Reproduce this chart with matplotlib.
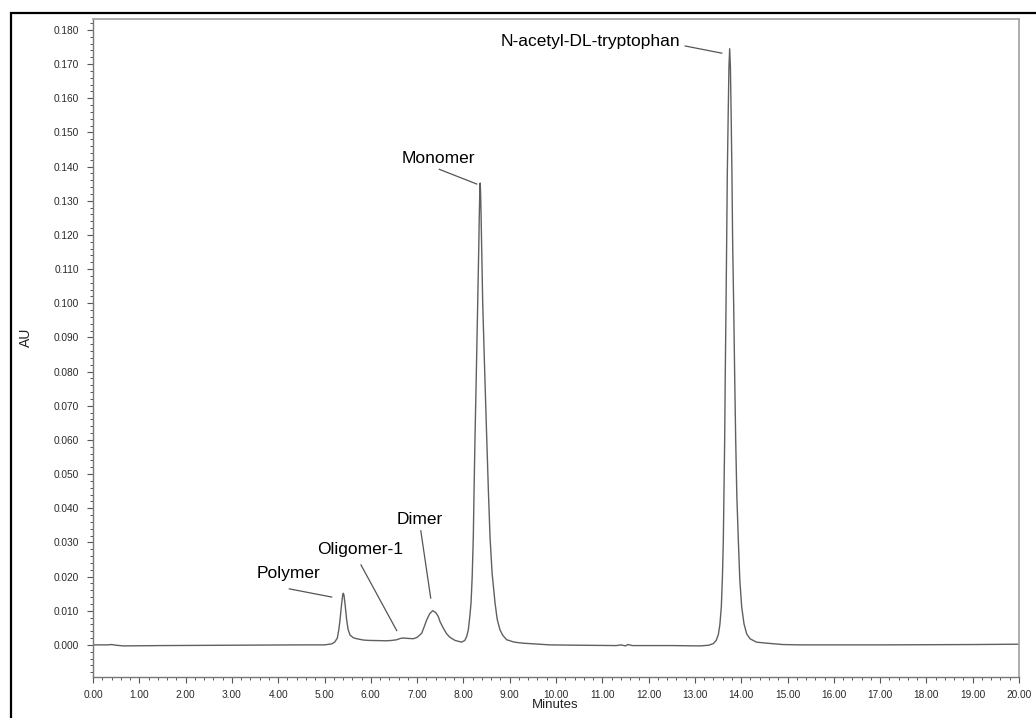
import numpy as np
import matplotlib
matplotlib.use('Agg')
import matplotlib.pyplot as plt
from matplotlib.patches import Rectangle
from matplotlib.ticker import MultipleLocator, FormatStrFormatter

plt.rcParams['font.family'] = ['Liberation Sans', 'DejaVu Sans']

# retention time (min) and absorbance (AU)
minutes = [0.00, 0.30, 0.40, 0.50, 0.65, 1.50, 3.00, 4.50, 5.00,
           5.155, 5.22, 5.277, 5.31, 5.335, 5.37, 5.395, 5.407, 5.42, 5.445,
           5.479, 5.51, 5.551, 5.62, 5.695, 5.85, 5.983, 6.343, 6.45, 6.559,
           6.64, 6.702, 6.80, 6.918, 7.00, 7.099, 7.15, 7.207, 7.27, 7.336,
           7.40, 7.458, 7.495, 7.566, 7.64, 7.711, 7.82, 7.96, 8.03, 8.07,
           8.106, 8.14, 8.165, 8.19, 8.214, 8.23, 8.251, 8.28, 8.309, 8.33,
           8.345, 8.355, 8.362, 8.37, 8.38, 8.395, 8.417, 8.46, 8.503, 8.54,
           8.575, 8.62, 8.683, 8.73, 8.790, 8.85, 8.935, 9.10, 9.287, 9.87,
           10.5, 11.3, 11.4, 11.5, 11.55, 11.65, 12.5, 13.11, 13.30, 13.40, 13.46,
           13.506, 13.54, 13.571, 13.595, 13.614, 13.625, 13.643, 13.655, 13.672,
           13.686, 13.70, 13.72, 13.735, 13.751, 13.767, 13.782, 13.80, 13.815,
           13.838, 13.86, 13.881, 13.905, 13.938, 13.97, 14.010, 14.06, 14.119,
           14.19, 14.33, 14.55, 14.9, 15.27, 17.0, 19.0, 20.0]
au = [0.0000, 0.0000, 0.0001, -0.0001, -0.0003, -0.0002, -0.0001, 0.0000, 0.0000,
      0.0003, 0.0008, 0.0020, 0.0045, 0.0073, 0.0120, 0.0148, 0.0151, 0.0146, 0.0118,
      0.0073, 0.0045, 0.0029, 0.0021, 0.0018, 0.0014, 0.0013, 0.0012, 0.0013, 0.0015,
      0.0019, 0.0020, 0.0019, 0.0018, 0.0022, 0.0034, 0.0052, 0.0073, 0.0091, 0.0100,
      0.0095, 0.0083, 0.0068, 0.0049, 0.0032, 0.0022, 0.0013, 0.0008, 0.0013, 0.0024,
      0.0044, 0.0085, 0.0123, 0.0200, 0.0316, 0.0450, 0.0609, 0.0800, 0.1001, 0.1150,
      0.1270, 0.1330, 0.1352, 0.1330, 0.1270, 0.1160, 0.1001, 0.0800, 0.0609, 0.0450,
      0.0316, 0.0210, 0.0123, 0.0075, 0.0044, 0.0028, 0.0015, 0.0008, 0.0005, 0.0000,
      -0.0001, -0.0002, 0.0000, -0.0003, 0.0001, -0.0002, -0.0002, -0.0003, -0.0001, 0.0004, 0.0013,
      0.0030, 0.0060, 0.0112, 0.0200, 0.0307, 0.0420, 0.0600, 0.0780, 0.0990,
      0.1180, 0.1380, 0.1560, 0.1690, 0.1745, 0.1690, 0.1560, 0.1380, 0.1180,
      0.0990, 0.0780, 0.0600, 0.0440, 0.0307, 0.0190, 0.0112, 0.0062, 0.0032,
      0.0018, 0.0008, 0.0005, 0.0001, 0.0000, 0.0000, 0.0001, 0.0002]

# peak labels: text position, leader line start and end
labels = ['Polymer', 'Oligomer-1', 'Dimer', 'Monomer', 'N-acetyl-DL-tryptophan']
label_xy = [(4.22, 0.0209), (5.77, 0.0278), (7.06, 0.0367), (7.47, 0.1425), (12.68, 0.1765)]
line_from = [(4.24, 0.0164), (5.788, 0.0234), (7.08, 0.0334), (7.48, 0.1392), (12.79, 0.1753)]
line_to = [(5.155, 0.0140), (6.559, 0.0042), (7.294, 0.0137), (8.287, 0.1349), (13.58, 0.1732)]
label_ha = ['center', 'center', 'center', 'center', 'right']

fig = plt.figure(figsize=(10.36, 7.18), dpi=100)
ax = fig.add_axes([93/1036, 1 - 677/718, 926/1036, 658/718])

ax.plot(minutes, au, color='#606060', lw=1.0)

for lab, xy, p0, p1, ha in zip(labels, label_xy, line_from, line_to, label_ha):
    ax.text(xy[0], xy[1], lab, ha=ha, va='center', fontsize=12.5, color='black')
    ax.plot([p0[0], p1[0]], [p0[1], p1[1]], color='#555555', lw=0.9)

ax.set_xlim(0, 20)
ax.set_ylim(-0.0094, 0.1832)
ax.xaxis.set_major_locator(MultipleLocator(1))
ax.xaxis.set_minor_locator(MultipleLocator(0.2))
ax.yaxis.set_major_locator(MultipleLocator(0.01))
ax.yaxis.set_minor_locator(MultipleLocator(0.002))
ax.xaxis.set_major_formatter(FormatStrFormatter('%.2f'))
ax.yaxis.set_major_formatter(FormatStrFormatter('%.3f'))
ax.set_yticks(np.arange(0, 0.1801, 0.01))

ax.tick_params(which='major', length=4, width=0.8, color='#555555', labelsize=7.3, labelcolor='#2a2a2a')
ax.tick_params(axis='y', which='major', pad=6)
ax.tick_params(axis='x', which='major', pad=5)
ax.tick_params(which='minor', length=2.5, width=0.7, color='#555555')

for side in ['left', 'bottom']:
    ax.spines[side].set_color('#777777')
    ax.spines[side].set_linewidth(1.0)
for side in ['top', 'right']:
    ax.spines[side].set_color('#a0a0a0')
    ax.spines[side].set_linewidth(1.2)

fig.text(26/1036, 1 - 337/718, 'AU', rotation=90, ha='center', va='center', fontsize=10, color='#222222')
fig.text(555/1036, 1 - 705/718, 'Minutes', ha='center', va='center', fontsize=9.5, color='#222222')

# outer frame, cut by the right and bottom edges
fig.add_artist(Rectangle((11/1036, -0.1), 1.2, 1 - 13/718 + 0.1, transform=fig.transFigure,
                         fill=False, ec='black', lw=1.6))

fig.savefig('out.png', dpi=100)
